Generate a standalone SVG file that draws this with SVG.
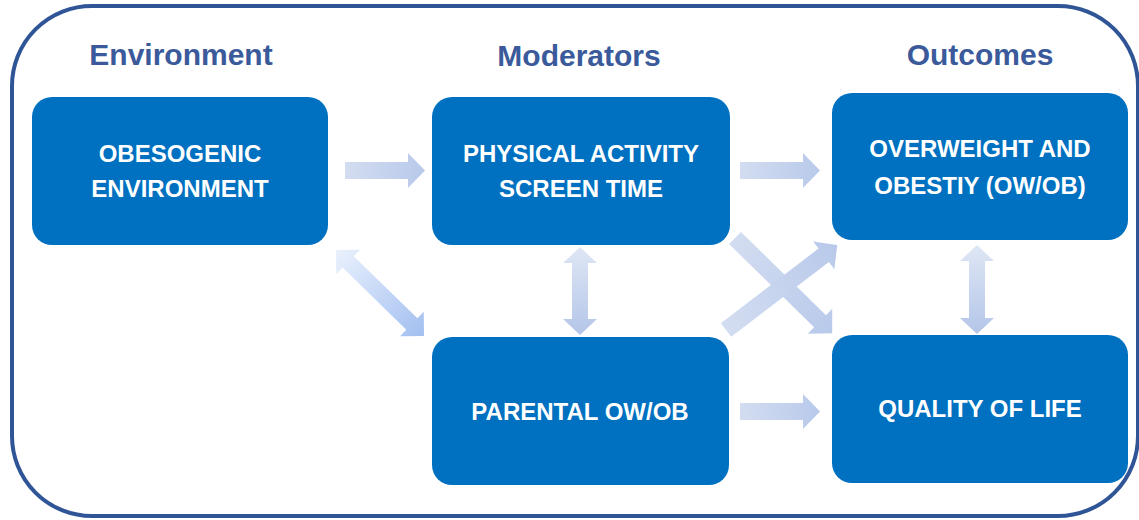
<svg xmlns="http://www.w3.org/2000/svg" width="1139" height="520" viewBox="0 0 1139 520">
  <defs>
    <linearGradient id="gArrow" x1="0" y1="0" x2="1" y2="0">
      <stop offset="0" stop-color="#dfe7f5"/>
      <stop offset="1" stop-color="#b3c5e8"/>
    </linearGradient>
    <linearGradient id="gFlat" x1="0" y1="0" x2="1" y2="0">
      <stop offset="0" stop-color="#d3ddf1"/>
      <stop offset="1" stop-color="#b8c9ea"/>
    </linearGradient>
    <linearGradient id="gDiag" x1="0" y1="0" x2="1" y2="0">
      <stop offset="0" stop-color="#eaf1fd"/>
      <stop offset="1" stop-color="#a2bff0"/>
    </linearGradient>
    <style>
      .frame { fill: #ffffff; stroke: #2f5597; stroke-width: 4; }
      .hdr { font-family: "Liberation Sans", Arial, sans-serif; font-weight: bold; font-size: 30px; fill: #3a5a9b; text-anchor: middle; }
      .box { fill: #0070c0; }
      .lbl { font-family: "Liberation Sans", Arial, sans-serif; font-weight: bold; font-size: 24px; fill: #ffffff; text-anchor: middle; }
      .arr { fill: url(#gArrow); }
      .arrh { fill: url(#gFlat); }
      .arrd { fill: url(#gDiag); }
    </style>
  </defs>

  <rect class="frame" x="12" y="6" width="1126" height="510" rx="80" ry="80"/>

  <text class="hdr" x="181" y="65">Environment</text>
  <text class="hdr" x="579" y="66">Moderators</text>
  <text class="hdr" x="980" y="65">Outcomes</text>

  <g id="connectors">
    <!-- Environment -> Physical activity -->
    <path class="arrh" transform="translate(345,170.5)" d="M0,-8.5 H63 V-17.5 L80,0 L63,17.5 V8.5 H0 Z"/>
    <!-- Physical activity -> OW/OB -->
    <path class="arrh" transform="translate(740,170.5)" d="M0,-8.5 H63 V-17.5 L80,0 L63,17.5 V8.5 H0 Z"/>
    <!-- Parental -> Quality of life -->
    <path class="arrh" transform="translate(740,411.5)" d="M0,-8.5 H63 V-17.5 L80,0 L63,17.5 V8.5 H0 Z"/>
    <!-- Physical activity <-> Parental -->
    <path class="arr" transform="translate(580,247) rotate(90)" d="M0,0 L16,-17 V-8 H72 V-17 L88,0 L72,17 V8 H16 V17 Z"/>
    <!-- OW/OB <-> Quality of life -->
    <path class="arr" transform="translate(977,245) rotate(90)" d="M0,0 L16,-17 V-8 H73 V-17 L89,0 L73,17 V8 H16 V17 Z"/>
    <!-- Environment <-> Parental -->
    <path class="arrd" transform="translate(336,250) rotate(44.3)" d="M0,0 L17,-17 V-8 H106 V-17 L123,0 L106,17 V8 H17 V17 Z"/>
    <!-- Physical activity -> Quality of life -->
    <path class="arrh" transform="translate(735,238) rotate(44.4)" d="M0,-8.5 H119 V-17.5 L136,0 L119,17.5 V8.5 H0 Z"/>
    <!-- Parental -> OW/OB -->
    <path class="arrh" transform="translate(726,330) rotate(-37.4)" d="M0,-8.5 H123 V-17.5 L140,0 L123,17.5 V8.5 H0 Z"/>
  </g>

  <g id="node-environment">
    <rect class="box" x="32" y="97" width="296" height="148" rx="20" ry="20"/>
    <text class="lbl" x="180" y="161.5">OBESOGENIC</text>
    <text class="lbl" x="180" y="197">ENVIRONMENT</text>
  </g>

  <g id="node-physical">
    <rect class="box" x="432" y="97" width="298" height="148" rx="20" ry="20"/>
    <text class="lbl" x="581" y="162">PHYSICAL ACTIVITY</text>
    <text class="lbl" x="581" y="197">SCREEN TIME</text>
  </g>

  <g id="node-owob">
    <rect class="box" x="832" y="93" width="296" height="147" rx="20" ry="20"/>
    <text class="lbl" x="980" y="157">OVERWEIGHT AND</text>
    <text class="lbl" x="980" y="194">OBESTIY (OW/OB)</text>
  </g>

  <g id="node-parental">
    <rect class="box" x="432" y="337" width="297" height="148" rx="20" ry="20"/>
    <text class="lbl" x="580" y="420">PARENTAL OW/OB</text>
  </g>

  <g id="node-qol">
    <rect class="box" x="832" y="335" width="296" height="148" rx="20" ry="20"/>
    <text class="lbl" x="980" y="417">QUALITY OF LIFE</text>
  </g>
</svg>
